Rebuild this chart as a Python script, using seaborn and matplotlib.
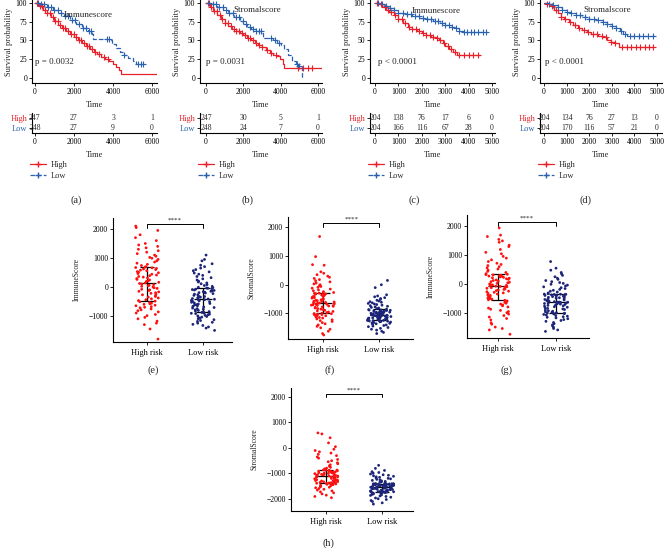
import numpy as np
import pandas as pd
import matplotlib
matplotlib.use("Agg")
import matplotlib.pyplot as plt
from matplotlib.lines import Line2D
import seaborn as sns

sns.set_theme(style="ticks")
plt.rcParams["font.family"] = ["Liberation Serif", "DejaVu Serif"]

W, H = 664, 548
RED = "#E8202A"
BLUE = "#2B62B0"
PT_RED = "#FF1010"
PT_NAVY = "#1B2478"

# ---- Kaplan-Meier curves (time, survival %), censor times, numbers at risk ----
a_high_t = [0, 200, 400, 600, 800, 1000, 1200, 1400, 1600, 1800, 2000, 2200, 2400, 2600, 2800, 3000, 3200, 3400, 3600, 3800, 4000, 4150, 4300, 4400, 6300]
a_high_s = [100, 96, 91, 86, 81, 76, 71, 67, 63, 59, 55, 51, 47, 43, 39, 35, 32, 28, 25, 22, 18, 14, 11, 5, 5]
a_high_c = [120, 260, 380, 520, 640, 760, 900, 1040, 1180, 1300, 1450, 1560, 1700, 1850, 1980, 2100, 2250, 2380, 2500, 2650, 2780, 2900, 3050, 3300, 3550, 3750]
a_low_t = [0, 300, 600, 900, 1200, 1500, 1800, 2100, 2400, 2700, 2900, 2950, 3850, 3950, 4150, 4350, 4550, 4750, 5000, 5200, 5600]
a_low_s = [100, 98, 95, 91, 87, 82, 77, 72, 67, 62, 59, 52, 50, 45, 40, 35, 30, 26, 22, 19, 19]
a_low_c = [150, 320, 480, 650, 820, 1000, 1180, 1350, 1520, 1700, 1880, 2050, 2250, 2450, 2600, 2750, 2850, 3700, 3800, 4550, 5300, 5450, 5550]

b_high_t = [0, 200, 400, 600, 800, 1000, 1200, 1400, 1600, 1800, 2000, 2200, 2400, 2600, 2800, 3000, 3200, 3400, 3600, 3800, 3950, 4100, 4200, 6300]
b_high_s = [100, 95, 89, 84, 79, 73, 69, 65, 62, 60, 57, 53, 50, 47, 44, 41, 37, 33, 31, 29, 25, 19, 13, 13]
b_high_c = [130, 280, 430, 580, 730, 880, 1030, 1180, 1330, 1480, 1630, 1780, 1930, 2080, 2230, 2380, 2530, 2680, 2830, 3000, 3250, 3500, 3750, 4950, 5200, 5450, 5650]
b_low_t = [0, 300, 600, 900, 1200, 1500, 1800, 2000, 2200, 2400, 2700, 3000, 3050, 3600, 3800, 4000, 4200, 4400, 4600, 4800, 4950, 5150]
b_low_s = [100, 98, 95, 91, 86, 81, 76, 72, 68, 65, 62, 60, 53, 50, 47, 44, 38, 30, 23, 18, 16, 0]
b_low_c = [170, 350, 530, 710, 890, 1070, 1250, 1430, 1610, 1790, 1970, 2150, 2330, 2510, 2700, 2850, 2950, 3500, 3700, 3900, 4850, 5000]

c_high_t = [0, 150, 300, 450, 600, 800, 1000, 1200, 1400, 1600, 1800, 2000, 2200, 2400, 2600, 2750, 2900, 3000, 3150, 3350, 3500, 4500]
c_high_s = [100, 98, 95, 91, 88, 84, 79, 73, 68, 65, 62, 60, 57, 55, 53, 50, 46, 42, 38, 34, 30, 30]
c_high_c = [100, 250, 420, 560, 700, 850, 1000, 1150, 1300, 1450, 1600, 1750, 1900, 2050, 2200, 2350, 2500, 2650, 2800, 2950, 3100, 3250, 3400, 3600, 3800, 4000, 4200, 4400]
c_low_t = [0, 200, 400, 600, 800, 1000, 1300, 1600, 1900, 2200, 2500, 2800, 3000, 3200, 3400, 3600, 3750, 4800]
c_low_s = [100, 99, 96, 93, 90, 87, 85, 82, 80, 78, 76, 73, 70, 68, 66, 63, 61, 61]
c_low_c = [120, 300, 480, 650, 820, 1000, 1180, 1350, 1520, 1700, 1880, 2050, 2220, 2400, 2550, 2700, 2850, 3000, 3150, 3300, 3450, 3600, 3800, 3950, 4100, 4250, 4400, 4600, 4750]

d_high_t = [0, 150, 300, 450, 600, 750, 900, 1100, 1300, 1500, 1700, 1900, 2100, 2400, 2600, 2800, 2950, 3150, 3300, 4850]
d_high_s = [100, 99, 96, 91, 86, 81, 78, 74, 70, 67, 64, 61, 59, 56, 54, 51, 48, 46, 41, 41]
d_high_c = [150, 350, 550, 750, 950, 1150, 1350, 1550, 1750, 1950, 2150, 2350, 2550, 2750, 2950, 3150, 3450, 3650, 3850, 4050, 4250, 4450, 4650, 4800]
d_low_t = [0, 200, 400, 600, 800, 1000, 1200, 1400, 1700, 2000, 2300, 2600, 2800, 3000, 3200, 3350, 3500, 3650, 4900]
d_low_s = [100, 99, 97, 94, 91, 88, 86, 84, 81, 79, 77, 74, 72, 69, 66, 62, 59, 56, 56]
d_low_c = [200, 400, 600, 800, 1000, 1200, 1400, 1600, 1800, 2000, 2200, 2400, 2600, 2800, 3000, 3200, 3400, 3600, 3800, 4000, 4200, 4400, 4600, 4800]

ab_ticks = [0, 2000, 4000, 6000]
cd_ticks = [0, 1000, 2000, 3000, 4000, 5000]
a_risk_high = [247, 27, 3, 1]
a_risk_low = [248, 27, 9, 0]
b_risk_high = [247, 30, 5, 1]
b_risk_low = [248, 24, 7, 0]
c_risk_high = [204, 138, 76, 17, 6, 0]
c_risk_low = [204, 166, 116, 67, 28, 0]
d_risk_high = [204, 134, 76, 27, 13, 0]
d_risk_low = [204, 170, 116, 57, 21, 0]

# ---- score scatter groups ----
groups = ["High risk", "Low risk"]
e_high = [-1800, -1450, -1300, -1250, -1180, -1100, -1050, -990, -950, -900, -860, -820, -790, -760, -720, -700, -680, -650, -630, -600, -580, -560, -540, -510, -490,
          -470, -440, -410, -380, -350, -330, -300, -270, -250, -220, -200, -170, -150, -120, -100, -80, -50, -30, 0, 20, 40, 60, 80, 100, 120,
          140, 160, 190, 210, 240, 260, 290, 310, 340, 360, 390, 410, 440, 460, 490, 510, 530, 560, 580, 600, 620, 640, 660, 670, 685,
          700, 740, 780, 820, 860, 900, 950, 990, 1020, 1060, 1100, 1150, 1200, 1250, 1300, 1350, 1400, 1450, 1500, 1600, 1700, 1800, 1950, 2050, 2100]
e_low = [-1500, -1420, -1380, -1330, -1290, -1250, -1220, -1190, -1160, -1130, -1100, -1080, -1060, -1040, -1020, -1000, -980, -960, -940, -920, -910, -900, -890, -880, -865,
         -850, -830, -810, -790, -770, -750, -730, -710, -690, -670, -650, -630, -610, -590, -570, -550, -530, -510, -495, -480, -465, -450, -440, -430, -425,
         -415, -400, -385, -370, -350, -330, -310, -290, -270, -250, -230, -210, -195, -180, -165, -150, -135, -120, -105, -90, -75, -60, -45, -35, -25,
         -10, 20, 50, 80, 110, 140, 170, 200, 240, 280, 320, 360, 400, 440, 480, 520, 560, 600, 650, 700, 750, 800, 900, 950, 1100]
f_high = [-1750, -1700, -1620, -1550, -1500, -1450, -1400, -1360, -1320, -1280, -1250, -1220, -1190, -1160, -1140, -1120, -1100, -1080, -1060, -1050, -1040, -1030, -1020, -1010, -1005,
          -990, -970, -950, -930, -910, -890, -870, -850, -830, -810, -790, -770, -750, -740, -730, -720, -710, -700, -690, -680, -670, -660, -645, -635, -625,
          -615, -600, -585, -570, -555, -540, -525, -510, -495, -480, -465, -450, -435, -420, -405, -390, -375, -360, -345, -330, -320, -310, -300, -292, -285,
          -270, -240, -210, -180, -150, -120, -90, -60, -30, 0, 30, 60, 100, 140, 180, 220, 260, 300, 350, 400, 450, 680, 700, 980, 1680]
f_low = [-1700, -1660, -1620, -1580, -1550, -1520, -1490, -1460, -1440, -1420, -1400, -1380, -1360, -1345, -1330, -1315, -1300, -1290, -1280, -1270, -1262, -1255, -1250, -1245, -1242,
         -1235, -1228, -1220, -1212, -1205, -1198, -1190, -1182, -1175, -1168, -1160, -1152, -1145, -1138, -1130, -1122, -1115, -1108, -1100, -1093, -1086, -1079, -1072, -1066, -1062,
         -1058, -1050, -1042, -1034, -1026, -1018, -1010, -1002, -994, -986, -978, -970, -962, -954, -946, -938, -930, -922, -914, -906, -898, -890, -882, -874, -866,
         -850, -830, -810, -790, -770, -750, -730, -710, -690, -670, -650, -630, -610, -590, -570, -540, -510, -480, -450, -420, -390, -350, -100, 0, 150]
g_high = [-1750, -1600, -1550, -1500, -1400, -1350, -1250, -1200, -1150, -1100, -1050, -1000, -960, -920, -880, -840, -800, -760, -730, -700, -670, -640, -610, -590, -570,
          -550, -530, -510, -490, -470, -450, -420, -400, -380, -350, -330, -310, -290, -270, -250, -230, -210, -190, -170, -150, -130, -110, -95, -85, -75,
          -65, -50, -35, -20, 0, 20, 40, 60, 80, 100, 120, 140, 160, 180, 200, 215, 230, 245, 260, 275, 290, 305, 315, 325, 335,
          360, 400, 440, 480, 520, 560, 600, 640, 680, 720, 780, 840, 900, 960, 1050, 1100, 1200, 1300, 1350, 1450, 1500, 1550, 1650, 1700, 1950]
g_low = [-1650, -1600, -1550, -1500, -1460, -1420, -1380, -1340, -1300, -1270, -1240, -1210, -1180, -1160, -1140, -1120, -1100, -1080, -1060, -1045, -1030, -1020, -1012, -1006, -1002,
         -990, -970, -950, -930, -910, -890, -870, -850, -830, -810, -790, -775, -760, -745, -730, -715, -700, -690, -680, -670, -660, -650, -642, -636, -632,
         -628, -615, -600, -585, -570, -555, -540, -525, -510, -495, -480, -465, -450, -440, -430, -420, -410, -400, -390, -380, -372, -365, -360, -356, -352,
         -340, -310, -280, -250, -220, -190, -160, -130, -100, -70, -40, -10, 20, 50, 80, 120, 160, 200, 250, 300, 350, 400, 480, 550, 780]
h_high = [-1950, -1900, -1850, -1800, -1760, -1720, -1680, -1650, -1620, -1590, -1560, -1540, -1520, -1500, -1480, -1460, -1440, -1425, -1410, -1400, -1390, -1380, -1372, -1366, -1362,
          -1355, -1345, -1335, -1325, -1315, -1305, -1295, -1285, -1275, -1265, -1255, -1245, -1235, -1225, -1210, -1195, -1180, -1165, -1150, -1140, -1130, -1120, -1110, -1100, -1094,
          -1086, -1076, -1066, -1056, -1046, -1036, -1026, -1016, -1006, -996, -986, -976, -966, -956, -946, -936, -926, -916, -906, -896, -886, -878, -872, -866, -862,
          -850, -820, -790, -760, -730, -700, -660, -620, -580, -540, -500, -450, -400, -350, -300, -250, -200, -150, -100, -50, 50, 200, 400, 550, 590]
h_low = [-2200, -2150, -2100, -2060, -2020, -1990, -1960, -1930, -1900, -1880, -1860, -1840, -1820, -1800, -1785, -1770, -1758, -1748, -1740, -1732, -1726, -1720, -1716, -1713, -1711,
         -1706, -1700, -1692, -1684, -1676, -1668, -1660, -1652, -1644, -1636, -1628, -1620, -1612, -1604, -1596, -1588, -1580, -1572, -1564, -1556, -1548, -1540, -1533, -1527, -1522,
         -1518, -1512, -1506, -1500, -1494, -1488, -1482, -1476, -1470, -1464, -1458, -1452, -1446, -1440, -1434, -1428, -1422, -1417, -1413, -1410, -1407, -1405, -1403, -1402, -1401,
         -1390, -1370, -1350, -1330, -1310, -1290, -1270, -1250, -1230, -1210, -1190, -1170, -1150, -1130, -1110, -1090, -1070, -1050, -1020, -990, -960, -930, -880, -800, -680]

fig = plt.figure(figsize=(W / 100, H / 100), dpi=100)


def px_axes(x0, y0, x1, y1):
    return fig.add_axes([x0 / W, 1 - y1 / H, (x1 - x0) / W, (y1 - y0) / H])


def style_axes(ax, size=5.5):
    sns.despine(ax=ax)
    for sp in ["left", "bottom"]:
        ax.spines[sp].set_linewidth(0.8)
        ax.spines[sp].set_color("black")
    ax.tick_params(labelsize=size, length=2, width=0.6, pad=1.5, colors="black")


def step_at(t, times, surv):
    idx = np.searchsorted(times, t, side="right") - 1
    return np.asarray(surv)[idx]


def km_panel(x0, x1, xlim, ticks, curves, title, title_t, title_y, ptext, risk_high, risk_low, tag):
    ax = px_axes(x0, 0, x1, 83)
    for times, surv, cens, color, ls in curves:
        sns.lineplot(x=times, y=surv, drawstyle="steps-post", estimator=None, sort=False,
                     color=color, linestyle=ls, linewidth=0.9, ax=ax)
        sns.scatterplot(x=cens, y=step_at(cens, times, surv), marker="+", s=18,
                        color=color, linewidth=0.8, ax=ax)
    ax.set_xlim(*xlim)
    ax.set_ylim(-6.7, 104)
    ax.set_xticks(ticks)
    ax.set_yticks([0, 25, 50, 75, 100])
    ax.set_xlabel("Time", fontsize=6, labelpad=4)
    ax.set_ylabel("Survival probability", fontsize=6, labelpad=2)
    style_axes(ax)
    ax.text(title_t, title_y, title, fontsize=6.5, ha="left", va="center")
    ax.text(ptext[0], 21, ptext[1], fontsize=6.5, ha="left", va="center")

    rt = px_axes(x0, 113, x1, 133)
    for t, nh, nl in zip(ticks, risk_high, risk_low):
        rt.text(t, 1, str(nh), fontsize=5.5, ha="center", va="center")
        rt.text(t, 0, str(nl), fontsize=5.5, ha="center", va="center")
    rt.set_xlim(*xlim)
    rt.set_ylim(-0.5, 1.5)
    rt.set_xticks(ticks)
    rt.set_yticks([0, 1])
    rt.set_yticklabels(["Low", "High"])
    style_axes(rt)
    rt.get_yticklabels()[0].set_color(BLUE)
    rt.get_yticklabels()[1].set_color(RED)
    for lab in rt.get_yticklabels():
        lab.set_fontsize(6)
    rt.set_xlabel("Time", fontsize=6, labelpad=4)

    handles = [Line2D([], [], color=RED, lw=0.9, marker="+", ms=4),
               Line2D([], [], color=BLUE, lw=0.9, ls="--", marker="+", ms=4)]
    fig.legend(handles, ["High", "Low"], loc="upper left", bbox_to_anchor=((x0 - 2) / W, 1 - 161 / H),
               frameon=False, fontsize=6, handlelength=1.9, handletextpad=0.6,
               labelspacing=0.35, borderpad=0, borderaxespad=0)
    fig.text(tag[0] / W, 1 - 200 / H, tag[1], fontsize=7.5, ha="center", va="center")


km_panel(32, 157, (-150, 6250), ab_ticks,
         [(a_high_t, a_high_s, a_high_c, RED, "-"), (a_low_t, a_low_s, a_low_c, BLUE, "--")],
         "Immunescore", 1450, 84, (0, "p = 0.0032"), a_risk_high, a_risk_low, (76, "(a)"))
km_panel(200, 322, (-320, 6210), ab_ticks,
         [(b_high_t, b_high_s, b_high_c, RED, "-"), (b_low_t, b_low_s, b_low_c, BLUE, "--")],
         "Stromalscore", 1440, 91, (0, "p = 0.0031"), b_risk_high, b_risk_low, (247, "(b)"))
km_panel(370, 495, (-214, 5130), cd_ticks,
         [(c_high_t, c_high_s, c_high_c, RED, "-"), (c_low_t, c_low_s, c_low_c, BLUE, "--")],
         "Immunescore", 1580, 89, (130, "p < 0.0001"), c_risk_high, c_risk_low, (414, "(c)"))
km_panel(540, 662, (-177, 5220), cd_ticks,
         [(d_high_t, d_high_s, d_high_c, RED, "-"), (d_low_t, d_low_s, d_low_c, BLUE, "--")],
         "Stromalscore", 1730, 91, (40, "p < 0.0001"), d_risk_high, d_risk_low, (586, "(d)"))


def score_panel(box, xlim, ylim, yticks, high, low, ylabel, bracket_y, leg, tag):
    ax = px_axes(*box)
    df = pd.DataFrame({"group": ["High risk"] * len(high) + ["Low risk"] * len(low),
                       "score": high + low})
    sns.stripplot(data=df, x="group", y="score", hue="group", order=groups,
                  palette={"High risk": PT_RED, "Low risk": PT_NAVY}, jitter=0.21,
                  size=2.0, linewidth=0, legend=False, ax=ax)
    for i, vals in enumerate([high, low]):
        q1, med, q3 = np.percentile(vals, [25, 50, 75])
        ax.vlines(i, q1, q3, color="black", lw=0.9)
        ax.hlines(med, i - 0.16, i + 0.16, color="black", lw=0.9)
        ax.hlines([q1, q3], i - 0.12, i + 0.12, color="black", lw=0.9)
    ax.plot([0, 0, 1, 1], [bracket_y - leg, bracket_y, bracket_y, bracket_y - leg], color="black", lw=0.7)
    ax.text(0.5, bracket_y + 60, "****", ha="center", va="bottom", fontsize=5)
    ax.set_xlim(*xlim)
    ax.set_ylim(*ylim)
    ax.set_yticks(yticks)
    ax.set_xlabel("")
    ax.set_ylabel(ylabel, fontsize=5.5, labelpad=6)
    style_axes(ax)
    ax.tick_params(axis="x", labelsize=6, pad=3)
    fig.text(tag[0] / W, 1 - tag[1] / H, tag[2], fontsize=7.5, ha="center", va="center")


score_panel((113, 218, 232, 342), (-0.61, 1.52), (-1900, 2380), [-1000, 0, 1000, 2000],
            e_high, e_low, "ImmuneScore", 2170, 120, (153, 370, "(e)"))
score_panel((288, 217, 413, 339), (-0.625, 1.6), (-1890, 2360), [-1000, 0, 1000, 2000],
            f_high, f_low, "StromalScore", 2140, 120, (330, 370, "(f)"))
score_panel((467, 215, 589, 338), (-0.53, 1.57), (-1880, 2400), [-1000, 0, 1000, 2000],
            g_high, g_low, "ImmuneScore", 2140, 120, (507, 370, "(g)"))
score_panel((291, 388, 413, 511), (-0.625, 1.55), (-2470, 2350), [-2000, -1000, 0, 1000, 2000],
            h_high, h_low, "StromalScore", 2120, 130, (328, 543, "(h)"))

fig.savefig("out.png", dpi=100)
